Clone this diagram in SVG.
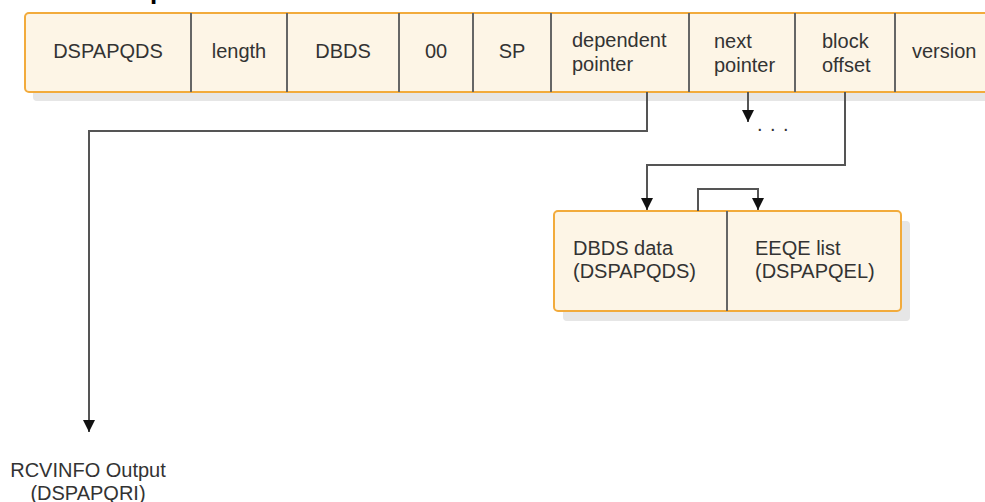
<svg xmlns="http://www.w3.org/2000/svg" width="985" height="502" viewBox="0 0 985 502">
<style>
  .box{fill:#fdf5e6;stroke:#f2ab3c;stroke-width:2}
  .shadow{fill:#e6e6e6}
  .div{stroke:#666;stroke-width:2}
  .conn{fill:none;stroke:#555;stroke-width:2}
  text{font-family:"Liberation Sans",Arial,sans-serif;font-size:20px;fill:#333}
  .c{text-anchor:middle}
</style>
<defs>
  <marker id="arr" viewBox="0 0 12 12" refX="12" refY="6" markerWidth="12" markerHeight="13" markerUnits="userSpaceOnUse" orient="auto">
    <path d="M0,0 L12,6 L0,12 z" fill="#111"/>
  </marker>
</defs>
<rect width="985" height="502" fill="#fff"/>
<text x="150" y="-1" style="font-size:26px;font-weight:bold;fill:#000">p</text>

<g id="record">
  <rect class="shadow" x="33" y="22" width="980" height="79" rx="4"/>
  <rect class="box" x="25" y="13" width="975" height="79" rx="4"/>
  <line class="div" x1="191" y1="13" x2="191" y2="92"/>
  <line class="div" x1="287" y1="13" x2="287" y2="92"/>
  <line class="div" x1="399" y1="13" x2="399" y2="92"/>
  <line class="div" x1="473" y1="13" x2="473" y2="92"/>
  <line class="div" x1="551" y1="13" x2="551" y2="92"/>
  <line class="div" x1="689" y1="13" x2="689" y2="92"/>
  <line class="div" x1="795" y1="13" x2="795" y2="92"/>
  <line class="div" x1="895" y1="13" x2="895" y2="92"/>
  <text class="c" x="108" y="58">DSPAPQDS</text>
  <text class="c" x="239" y="58">length</text>
  <text class="c" x="343" y="58">DBDS</text>
  <text class="c" x="436" y="58">00</text>
  <text class="c" x="512" y="58">SP</text>
  <text x="572" y="47">dependent</text>
  <text x="572" y="71">pointer</text>
  <text x="714" y="48">next</text>
  <text x="714" y="72">pointer</text>
  <text x="822" y="48">block</text>
  <text x="822" y="72">offset</text>
  <text x="912" y="58">version</text>
</g>

<g id="data">
  <rect class="shadow" x="563" y="221" width="347" height="100" rx="4"/>
  <rect class="box" x="554" y="211" width="347" height="100" rx="4"/>
  <line class="div" x1="727" y1="211" x2="727" y2="311"/>
  <text x="573" y="255">DBDS data</text>
  <text x="573" y="278">(DSPAPQDS)</text>
  <text x="755" y="255">EEQE list</text>
  <text x="755" y="278">(DSPAPQEL)</text>
</g>

<g id="output">
  <text class="c" x="88" y="477">RCVINFO Output</text>
  <text class="c" x="88" y="500">(DSPAPQRI)</text>
</g>

<g id="connectors">
  <path class="conn" d="M647,92 V131 H89 V432" marker-end="url(#arr)"/>
  <path class="conn" d="M748,92 V122" marker-end="url(#arr)"/>
  <path class="conn" d="M845,92 V165 H647 V210" marker-end="url(#arr)"/>
  <path class="conn" d="M698,211 V189 H758 V210" marker-end="url(#arr)"/>
  <text x="757" y="131" style="letter-spacing:7.5px">...</text>
</g>
</svg>
